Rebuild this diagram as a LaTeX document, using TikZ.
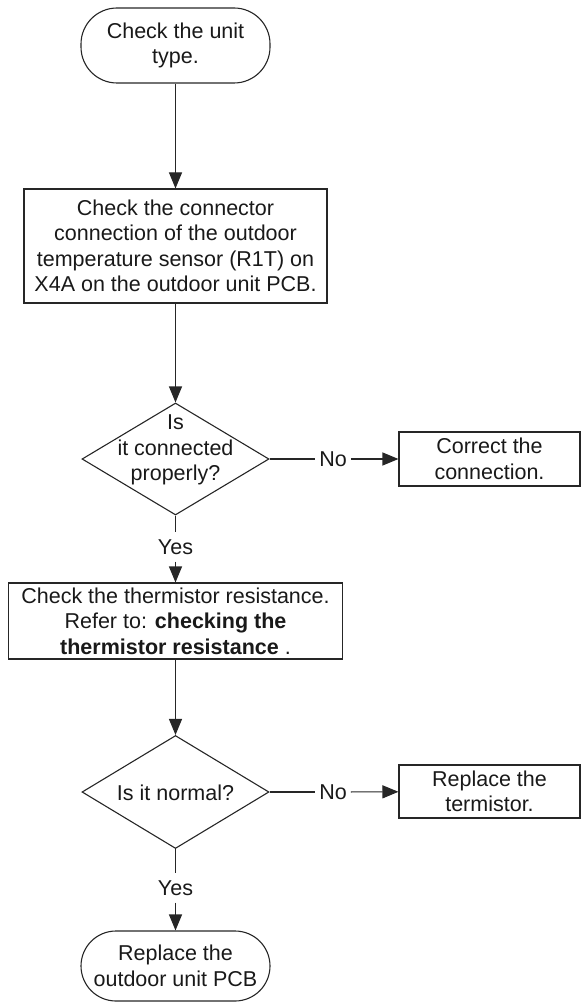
\documentclass[tikz,border=0pt]{standalone}
\usepackage{fontspec}
\setmainfont{Liberation Sans}
\usetikzlibrary{shapes.geometric,arrows.meta}
\begin{document}
\begin{tikzpicture}[x=1pt,y=-1pt,
  every node/.style={font=\fontsize{21.5}{25.5}\selectfont, text=black!90},
  line/.style={draw=black!85, line width=1.1pt},
  arr/.style={line, -{Triangle[length=16pt,width=13pt]}},
  term/.style={line, rectangle, rounded corners=36pt, align=center, inner sep=0pt, minimum width=189pt},
  procbox/.style={line, rectangle, align=center, inner sep=0pt},
  decision/.style={line, diamond, inner sep=0pt, minimum width=187pt, minimum height=112pt},
  lbl/.style={inner xsep=4pt, inner ysep=7pt}
]
\useasboundingbox (0,0) rectangle (587,1003);
\node[term, minimum height=75pt] (t1) at (175.5,45.5) {Check the unit\\type.};
\node[procbox, minimum width=303pt, minimum height=114pt] (b1) at (175.5,246) {Check the connector\\connection of the outdoor\\temperature sensor (R1T) on\\X4A on the outdoor unit PCB.};
\node[decision] (d1) at (175.5,459) {};
\node[align=center, inner sep=0pt] (d1t) at (175.5,450) {Is\\it connected\\properly?};
\node[lbl] (no1) at (333,459) {No};
\node[procbox, minimum width=181pt, minimum height=54pt] (r1) at (489.5,459) {Correct the\\connection.};
\node[lbl] (yes1) at (175.5,547) {Yes};
\node[procbox, minimum width=334pt, minimum height=76pt] (b2) at (175.5,621) {Check the thermistor resistance.\\Refer to: \textbf{checking the}\\\textbf{thermistor resistance} .};
\node[decision, minimum height=113pt] (d2) at (175.5,792) {};
\node[inner sep=0pt] (d2t) at (175.5,792.5) {Is it normal?};
\node[lbl] (no2) at (333,792) {No};
\node[procbox, minimum width=181pt, minimum height=53pt] (r2) at (489.5,791.5) {Replace the\\termistor.};
\node[lbl] (yes2) at (175.5,888) {Yes};
\node[term, minimum height=70pt, rounded corners=35pt] (t2) at (175.5,966) {Replace the\\outdoor unit PCB};

\draw[arr] (t1) -- (b1);
\draw[arr] (b1) -- (d1);
\draw[line] (d1.east) -- (no1);
\draw[arr] (no1) -- (r1);
\draw[line] (d1.south) -- (yes1);
\draw[arr] (yes1) -- (b2);
\draw[arr] (b2) -- (d2);
\draw[line] (d2.east) -- (no2);
\draw[arr] (no2) -- (r2);
\draw[line] (d2.south) -- (yes2);
\draw[arr] (yes2) -- (t2);
\end{tikzpicture}
\end{document}
